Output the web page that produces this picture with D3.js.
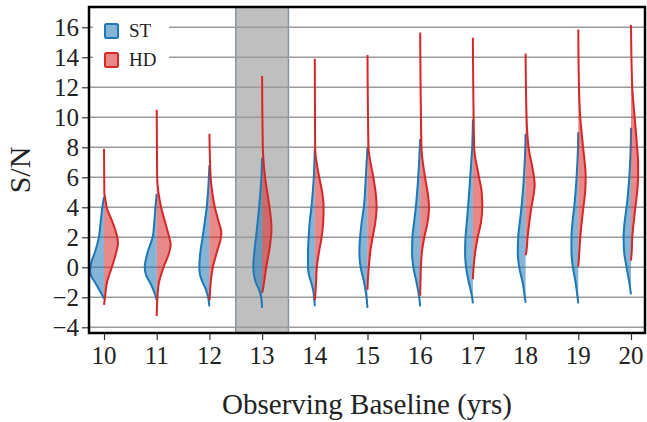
<!DOCTYPE html>
<html>
<head>
<meta charset="utf-8">
<script src="https://cdn.jsdelivr.net/npm/d3@7"></script>
<style>
  body { margin: 0; background: #fff; }
  svg text { font-family: "Liberation Serif", "DejaVu Serif", serif; fill: #222; }
</style>
</head>
<body>
<div id="chart"></div>
<script>
// observing baselines (yrs)
const baselines = [10, 11, 12, 13, 14, 15, 16, 17, 18, 19, 20];
const yTicks = [-4, -2, 0, 2, 4, 6, 8, 10, 12, 14, 16];
const highlight = 13; // shaded baseline

// violin profiles: [S/N, relative density]
const stProfiles = [
  [[4.7,0],[4,0.12],[3,0.24],[2,0.36],[1,0.64],[0.5,0.84],[0,0.95],[-0.3,0.98],[-0.7,0.84],[-1,0.64],[-1.5,0.34],[-2,0.05],[-2.1,0]],
  [[4.9,0],[4,0.09],[3,0.17],[2,0.29],[1,0.64],[0,0.84],[-0.5,0.76],[-1,0.48],[-1.5,0.24],[-2,0.05],[-2.2,0]],
  [[6.8,0],[5,0.1],[4,0.19],[3,0.33],[2,0.48],[1,0.64],[0,0.71],[-0.5,0.66],[-1,0.48],[-1.5,0.24],[-2,0.09],[-2.6,0]],
  [[7.3,0],[6,0.05],[4,0.21],[2,0.43],[1,0.55],[0,0.62],[-0.5,0.57],[-1,0.45],[-1.5,0.21],[-2,0.07],[-2.7,0]],
  [[7.9,0],[6,0.07],[4,0.24],[3,0.36],[2,0.43],[1,0.48],[0,0.48],[-0.5,0.41],[-1,0.26],[-1.5,0.12],[-2,0.05],[-2.6,0]],
  [[8,0],[6,0.12],[4,0.26],[3,0.41],[2,0.52],[1,0.57],[0.5,0.55],[0,0.48],[-1,0.24],[-2,0.07],[-2.7,0]],
  [[8.55,0],[6,0.14],[4,0.31],[3,0.43],[2,0.55],[1,0.57],[0,0.48],[-1,0.26],[-2,0.07],[-2.6,0]],
  [[9.85,0],[8,0.05],[6,0.19],[4,0.34],[3,0.43],[2,0.52],[1,0.55],[0,0.48],[-1,0.29],[-2,0.05],[-2.4,0]],
  [[8.9,0],[8,0.02],[6,0.12],[4,0.29],[3,0.41],[2,0.52],[1,0.55],[0,0.45],[-1,0.21],[-2,0.05],[-2.35,0]],
  [[9,0],[8,0.02],[6,0.12],[4,0.29],[3,0.41],[2,0.48],[1,0.48],[0,0.38],[-1,0.19],[-2,0.05],[-2.4,0]],
  [[9.3,0],[8,0.02],[6,0.12],[4,0.31],[3,0.45],[2,0.52],[1,0.48],[0,0.31],[-1,0.12],[-1.8,0]]
];

const hdProfiles = [
  [[7.9,0],[5,0.02],[4.5,0.1],[4,0.19],[3,0.6],[2,0.93],[1.6,0.98],[1,0.86],[0,0.55],[-1,0.21],[-2,0.07],[-2.5,0]],
  [[10.5,0],[6,0.03],[5,0.12],[4,0.31],[3,0.59],[2,0.88],[1.5,0.98],[1,0.88],[0,0.48],[-1,0.16],[-2,0.05],[-3.25,0]],
  [[8.9,0],[6,0.09],[5,0.2],[4,0.38],[3,0.66],[2.3,0.84],[2,0.81],[1,0.52],[0,0.24],[-1,0.09],[-2,0.02],[-2.2,0]],
  [[12.75,0],[8,0.05],[6,0.21],[4,0.52],[3,0.64],[2.5,0.66],[2,0.62],[1,0.48],[0,0.29],[-1,0.14],[-1.5,0.05],[-1.7,0]],
  [[13.9,0],[8,0.02],[6,0.31],[5,0.52],[4,0.62],[3,0.59],[2,0.48],[1,0.29],[0,0.14],[-1,0.09],[-2,0.02],[-2.2,0]],
  [[14.15,0],[8,0.07],[6,0.41],[5,0.57],[4,0.64],[3,0.55],[2,0.36],[1,0.19],[0,0.09],[-1,0.02],[-1.5,0]],
  [[15.65,0],[8,0.09],[6,0.34],[5,0.52],[4,0.62],[3,0.52],[2,0.29],[1,0.12],[0,0.05],[-1,0.02],[-1.9,0]],
  [[15.3,0],[8,0.09],[6,0.43],[5,0.62],[4,0.66],[3,0.57],[2,0.34],[1,0.16],[0,0.05],[-0.8,0]],
  [[14.25,0],[10,0.07],[8,0.21],[6,0.59],[5.5,0.64],[5,0.59],[4,0.41],[3,0.26],[2,0.14],[1,0.05],[0.8,0]],
  [[15.85,0],[12,0.05],[10,0.14],[8,0.34],[7,0.45],[6,0.52],[5,0.48],[4,0.36],[3,0.24],[2,0.14],[1,0.07],[0.05,0]],
  [[16.15,0],[12,0.09],[10,0.26],[8,0.43],[7,0.5],[6,0.5],[5,0.43],[4,0.31],[3,0.19],[2,0.09],[1,0.05],[0.45,0]]
];

const series = [
  { name: "ST", profiles: stProfiles, side: -1, color: "#1f77b4" },
  { name: "HD", profiles: hdProfiles, side: 1, color: "#d62728" }
];

const width = 647,
      height = 422,
      margin = ({ top: 7, right: 2, bottom: 89, left: 89 });

let svg = d3.select("#chart")
    .append("svg")
    .attr("width", width)
    .attr("height", height);

let x = d3.scaleLinear()
    .domain([9.715, 20.266])
    .range([margin.left, width - margin.right]);

let y = d3.scaleLinear()
    .domain([-4.38, 17.35])
    .range([height - margin.bottom, margin.top]);

// relative density -> half width in years
let w = d3.scaleLinear().domain([0, 1]).range([0, 0.27]);

// shaded baseline
svg.append("rect")
    .attr("x", x(highlight - 0.5))
    .attr("y", margin.top)
    .attr("width", x(highlight + 0.5) - x(highlight - 0.5))
    .attr("height", y.range()[0] - margin.top)
    .attr("fill", "#bfbfbf")
    .attr("stroke", "#8894a4")
    .attr("stroke-width", 1.5);

// horizontal grid
svg.append("g")
    .selectAll("line")
    .data(yTicks)
    .join("line")
    .attr("x1", margin.left)
    .attr("x2", width - margin.right)
    .attr("y1", d => y(d))
    .attr("y2", d => y(d))
    .attr("stroke", "#9a9a9a")
    .attr("stroke-width", 1.4);

// violins
for (let s of series) {
    s.profiles.forEach((prof, i) => {
        let cx = baselines[i];
        let area = d3.area()
            .y(d => y(d[0]))
            .x0(x(cx))
            .x1(d => x(cx + s.side * w(d[1])))
            .curve(d3.curveMonotoneY);
        let edge = d3.line()
            .y(d => y(d[0]))
            .x(d => x(cx + s.side * w(d[1])))
            .curve(d3.curveMonotoneY);
        svg.append("path")
            .attr("d", area(prof))
            .attr("fill", s.color)
            .attr("fill-opacity", 0.55);
        svg.append("path")
            .attr("d", edge(prof))
            .attr("fill", "none")
            .attr("stroke", s.color)
            .attr("stroke-width", 2);
    });
}

// axes (tick labels drawn separately so they take the serif font)
let yAxis = svg.append("g")
    .attr("transform", `translate(${margin.left},0)`)
    .call(d3.axisLeft(y).tickValues(yTicks).tickSize(7).tickFormat(""));
let xAxis = svg.append("g")
    .attr("transform", `translate(0,${y.range()[0]})`)
    .call(d3.axisBottom(x).tickValues(baselines).tickSize(7).tickFormat(""));
for (let a of [xAxis, yAxis]) {
    a.select(".domain").remove();
    a.selectAll(".tick line").attr("stroke", "#333").attr("stroke-width", 1.2);
}

svg.append("g")
    .selectAll("text")
    .data(yTicks)
    .join("text")
    .attr("x", margin.left - 10)
    .attr("y", d => y(d))
    .attr("dy", "0.35em")
    .attr("text-anchor", "end")
    .style("font-size", "25px")
    .text(d => d3.format("d")(d));

svg.append("g")
    .selectAll("text")
    .data(baselines)
    .join("text")
    .attr("x", d => x(d))
    .attr("y", y.range()[0] + 31)
    .attr("text-anchor", "middle")
    .style("font-size", "25px")
    .text(d => d);

// frame
svg.append("rect")
    .attr("x", margin.left)
    .attr("y", margin.top)
    .attr("width", width - margin.right - margin.left)
    .attr("height", y.range()[0] - margin.top)
    .attr("fill", "none")
    .attr("stroke", "#000")
    .attr("stroke-width", 2.5);

// legend
let legend = svg.append("g");
legend.append("rect")
    .attr("x", margin.left + 4)
    .attr("y", 12)
    .attr("width", 76)
    .attr("height", 60)
    .attr("fill", "#fff");
series.forEach((s, i) => {
    let row = legend.append("g").attr("transform", `translate(105,${24 + i * 29})`);
    row.append("rect")
        .attr("width", 13)
        .attr("height", 14)
        .attr("rx", 1.5)
        .attr("fill", s.color)
        .attr("fill-opacity", 0.55)
        .attr("stroke", s.color)
        .attr("stroke-width", 2);
    row.append("text")
        .attr("x", 24)
        .attr("y", 13)
        .style("font-size", "19px")
        .text(s.name);
});

// axis titles
svg.append("text")
    .attr("text-anchor", "middle")
    .attr("x", (margin.left + width - margin.right) / 2)
    .attr("y", 414)
    .style("font-size", "29px")
    .text("Observing Baseline (yrs)");

svg.append("text")
    .attr("text-anchor", "middle")
    .attr("transform", `translate(30,${(margin.top + y.range()[0]) / 2}) rotate(-90)`)
    .style("font-size", "30px")
    .text("S/N");
</script>
</body>
</html>
